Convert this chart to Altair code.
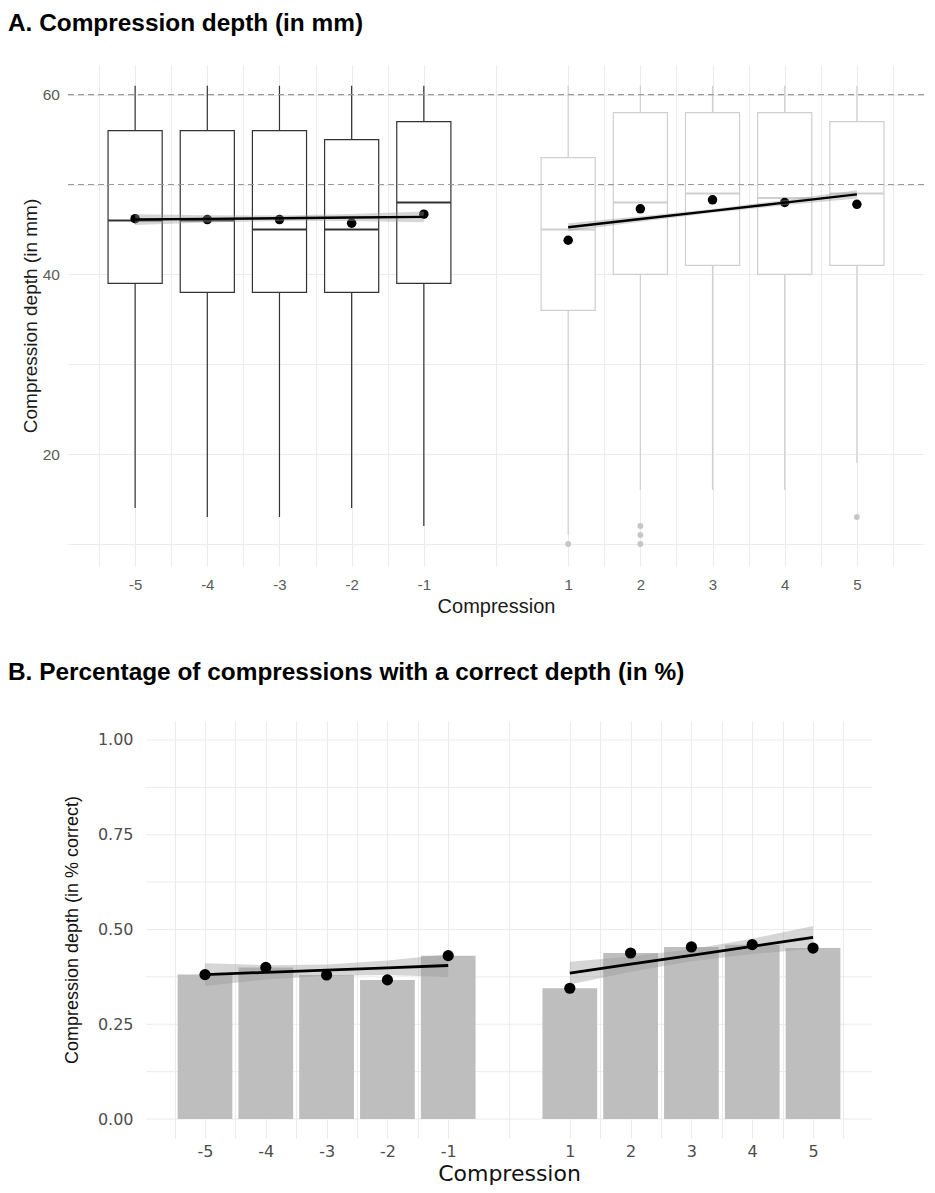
import altair as alt
import pandas as pd

# ---------------- data ----------------
compression = [-5, -4, -3, -2, -1, 1, 2, 3, 4, 5]
phase = ["before", "before", "before", "before", "before",
         "after", "after", "after", "after", "after"]

# Panel A: compression depth (mm) box plots
depth_whisker_low = [14, 13, 13, 14, 12, 11, 16, 16, 16, 19]
depth_q1 = [39, 38, 38, 38, 39, 36, 40, 41, 40, 41]
depth_median = [46, 46, 45, 45, 48, 45, 48, 49, 48.5, 49]
depth_q3 = [56, 56, 56, 55, 57, 53, 58, 58, 58, 57]
depth_whisker_high = [61, 61, 61, 61, 61, 61, 61, 61, 61, 61]
depth_mean = [46.2, 46.1, 46.1, 45.7, 46.7, 43.8, 47.3, 48.3, 48.0, 47.8]

outlier_compression = [1, 2, 2, 2, 5]
outlier_depth = [10, 10, 11, 12, 13]

depth_fit = [46.1, 46.18, 46.25, 46.33, 46.4, 45.25, 46.16, 47.07, 47.98, 48.9]
depth_fit_low = [45.5, 45.78, 45.95, 45.93, 45.8, 44.8, 45.86, 46.85, 47.68, 48.45]
depth_fit_high = [46.7, 46.58, 46.55, 46.73, 47.0, 45.7, 46.46, 47.29, 48.28, 49.35]

depth_reference = [50, 60]

# Panel B: proportion of compressions with a correct depth
pct_correct = [0.381, 0.40, 0.38, 0.367, 0.431, 0.345, 0.438, 0.454, 0.46, 0.451]
pct_fit = [0.381, 0.387, 0.393, 0.399, 0.405, 0.385, 0.4085, 0.432, 0.4555, 0.479]
pct_fit_low = [0.351, 0.368, 0.378, 0.380, 0.375, 0.355, 0.3885, 0.416, 0.4355, 0.449]
pct_fit_high = [0.411, 0.406, 0.408, 0.418, 0.435, 0.415, 0.4285, 0.448, 0.4755, 0.509]

# axis breaks
x_grid = [-5.5, -5, -4.5, -4, -3.5, -3, -2.5, -2, -1.5, -1, 0,
          1, 1.5, 2, 2.5, 3, 3.5, 4, 4.5, 5, 5.5]
depth_grid = [10, 20, 30, 40, 50, 60]
pct_grid = [0, 0.125, 0.25, 0.375, 0.5, 0.625, 0.75, 0.875, 1.0]

BOX_HALF = 0.375
BAR_HALF = 0.45

# ---------------- frames ----------------
top_df = pd.DataFrame({
    "compression": compression, "phase": phase,
    "whisker_low": depth_whisker_low, "q1": depth_q1, "median": depth_median,
    "q3": depth_q3, "whisker_high": depth_whisker_high, "mean": depth_mean,
    "fit": depth_fit, "fit_low": depth_fit_low, "fit_high": depth_fit_high,
})
out_df = pd.DataFrame({"compression": outlier_compression, "depth": outlier_depth})
ref_df = pd.DataFrame({"ref": depth_reference})
bot_df = pd.DataFrame({
    "compression": compression, "phase": phase, "pct": pct_correct,
    "fit": pct_fit, "fit_low": pct_fit_low, "fit_high": pct_fit_high,
})
pgrid_df = pd.DataFrame({"tick": pct_grid})

LIB = "Liberation Sans"
DJV = "DejaVu Sans"
GRID = "#ebebeb"

xlabel_expr = "(datum.value != 0 && datum.value % 1 == 0) ? ('' + datum.value) : ''"

# ---------------- panel A ----------------
xs_top = alt.Scale(domain=[-5.93, 5.93], nice=False, zero=False)
ys_top = alt.Scale(domain=[7.55, 63.3], nice=False, zero=False)
x_axis_top = alt.Axis(
    values=x_grid, labelExpr=xlabel_expr, title="Compression",
    titleFont=LIB, titleFontSize=20, titleFontWeight="normal", titleColor="#1a1a1a",
    titleY=40, titleBaseline="middle",
    labelFont=LIB, labelFontSize=15, labelColor="#5a5a5a", labelPadding=11,
    labelOverlap=False, labelFlush=False,
    grid=True, gridColor=GRID, gridWidth=1, domain=False, ticks=False, tickSize=0,
)
y_axis_top = alt.Axis(
    values=depth_grid, labelExpr="datum.value % 20 == 0 ? ('' + datum.value) : ''",
    title="Compression depth (in mm)",
    titleFont=LIB, titleFontSize=19, titleFontWeight="normal", titleColor="#1a1a1a",
    titleX=-37.5, titleBaseline="middle",
    labelFont=LIB, labelFontSize=15.5, labelColor="#5a5a5a", labelPadding=8.5,
    labelOverlap=False,
    grid=True, gridColor=GRID, gridWidth=1, domain=False, ticks=False, tickSize=0,
)


def xt(field):
    return alt.X(field, type="quantitative", scale=xs_top, axis=x_axis_top)


def yt(field):
    return alt.Y(field, type="quantitative", scale=ys_top, axis=y_axis_top)


phase_stroke = alt.Stroke("phase:N", scale=alt.Scale(domain=["before", "after"],
                                                     range=["#333333", "#cfcfcf"]),
                          legend=None)

base_top = alt.Chart(top_df).transform_calculate(
    x_lo=f"datum.compression - {BOX_HALF}", x_hi=f"datum.compression + {BOX_HALF}")

whiskers = base_top.mark_rule(strokeWidth=1.2).encode(
    x=xt("compression"), y=yt("whisker_low"), y2="whisker_high:Q", stroke=phase_stroke)
boxes = base_top.mark_rect(fill="white", strokeWidth=1.2).encode(
    x=xt("x_lo"), x2="x_hi:Q", y=yt("q1"), y2="q3:Q", stroke=phase_stroke)
medians = base_top.mark_rule(strokeWidth=2).encode(
    x=xt("x_lo"), x2="x_hi:Q", y=yt("median"), stroke=phase_stroke)
refs = alt.Chart(ref_df).mark_rule(color="#9a9a9a", strokeWidth=1.1, strokeDash=[6, 4]).encode(
    y=yt("ref"))
outliers = alt.Chart(out_df).mark_circle(size=34, color="#c6c6c6", opacity=1).encode(
    x=xt("compression"), y=yt("depth"))
means = base_top.mark_circle(size=90, color="black", opacity=1).encode(
    x=xt("compression"), y=yt("mean"))
band_top = base_top.mark_area(color="#999999", opacity=0.4).encode(
    x=xt("compression"), y=yt("fit_low"), y2="fit_high:Q", detail="phase:N")
line_top = base_top.mark_line(color="black", strokeWidth=2.4).encode(
    x=xt("compression"), y=yt("fit"), detail="phase:N")

top = alt.layer(whiskers, boxes, medians, refs, outliers, means, band_top, line_top).properties(
    width=856, height=501,
    title=alt.TitleParams("A. Compression depth (in mm)", anchor="start", frame="group",
                          dx=-60, offset=29,
                          font=LIB, fontSize=24.4, fontWeight="bold", color="black"),
)

# ---------------- panel B ----------------
# plot origin shares the left edge of panel A; the data area starts further right
B_LEFT = 5.97
xs_bot = alt.Scale(domain=[-7.253, 5.97], nice=False, zero=False)
ys_bot = alt.Scale(domain=[-0.05, 1.05], nice=False, zero=False)
x_axis_bot = alt.Axis(
    values=x_grid, labelExpr=xlabel_expr, title="Compression",
    titleFont=DJV, titleFontSize=22, titleFontWeight="normal", titleColor="#111111",
    titleX=441, titleY=35.5, titleBaseline="middle", titleAlign="center",
    labelFont=DJV, labelFontSize=16, labelColor="#4d4d4d", labelPadding=5,
    labelOverlap=False, labelFlush=False,
    grid=True, gridColor=GRID, gridWidth=1, domain=False, ticks=False, tickSize=0,
)
y_axis_bot = alt.Axis(
    values=pct_grid, labelExpr="datum.value % 0.25 == 0 ? format(datum.value, '.2f') : ''",
    title="Compression depth (in % correct)",
    titleFont=LIB, titleFontSize=18, titleFontWeight="normal", titleColor="#111111",
    titleX=4, titleBaseline="middle",
    labelFont=DJV, labelFontSize=16, labelColor="#4d4d4d", labelPadding=-65,
    labelOverlap=False,
    grid=False, domain=False, ticks=False, tickSize=0,
)


def xb(field):
    return alt.X(field, type="quantitative", scale=xs_bot, axis=x_axis_bot)


def yb(field):
    return alt.Y(field, type="quantitative", scale=ys_bot, axis=y_axis_bot)


base_bot = alt.Chart(bot_df).transform_calculate(
    x_lo=f"datum.compression - {BAR_HALF}", x_hi=f"datum.compression + {BAR_HALF}")

hgrid = alt.Chart(pgrid_df).mark_rule(color=GRID, strokeWidth=1).encode(
    x=alt.datum(-B_LEFT, type="quantitative", scale=xs_bot, axis=x_axis_bot),
    x2=alt.datum(B_LEFT), y=yb("tick"))
bars = base_bot.mark_rect(color="#bebebe").encode(
    x=xb("x_lo"), x2="x_hi:Q", y=yb("pct"), y2=alt.datum(0))
band_bot = base_bot.mark_area(color="#999999", opacity=0.4).encode(
    x=xb("compression"), y=yb("fit_low"), y2="fit_high:Q", detail="phase:N")
points_bot = base_bot.mark_circle(size=125, color="black", opacity=1).encode(
    x=xb("compression"), y=yb("pct"))
line_bot = base_bot.mark_line(color="black", strokeWidth=2.8).encode(
    x=xb("compression"), y=yb("fit"), detail="phase:N")

bottom = alt.layer(hgrid, bars, band_bot, points_bot, line_bot).properties(
    width=804, height=417,
    title=alt.TitleParams("B. Percentage of compressions with a correct depth (in %)",
                          anchor="start", frame="group", dx=-60, offset=36,
                          font=LIB, fontSize=24.4, fontWeight="bold", color="black"),
)

chart = alt.vconcat(top, bottom, spacing=43).properties(
    padding={"left": 0, "top": 2, "right": 0, "bottom": 0},
    background="white",
).configure_view(stroke=None)

chart.save("out.html", embed_options={"renderer": "svg", "actions": False})
